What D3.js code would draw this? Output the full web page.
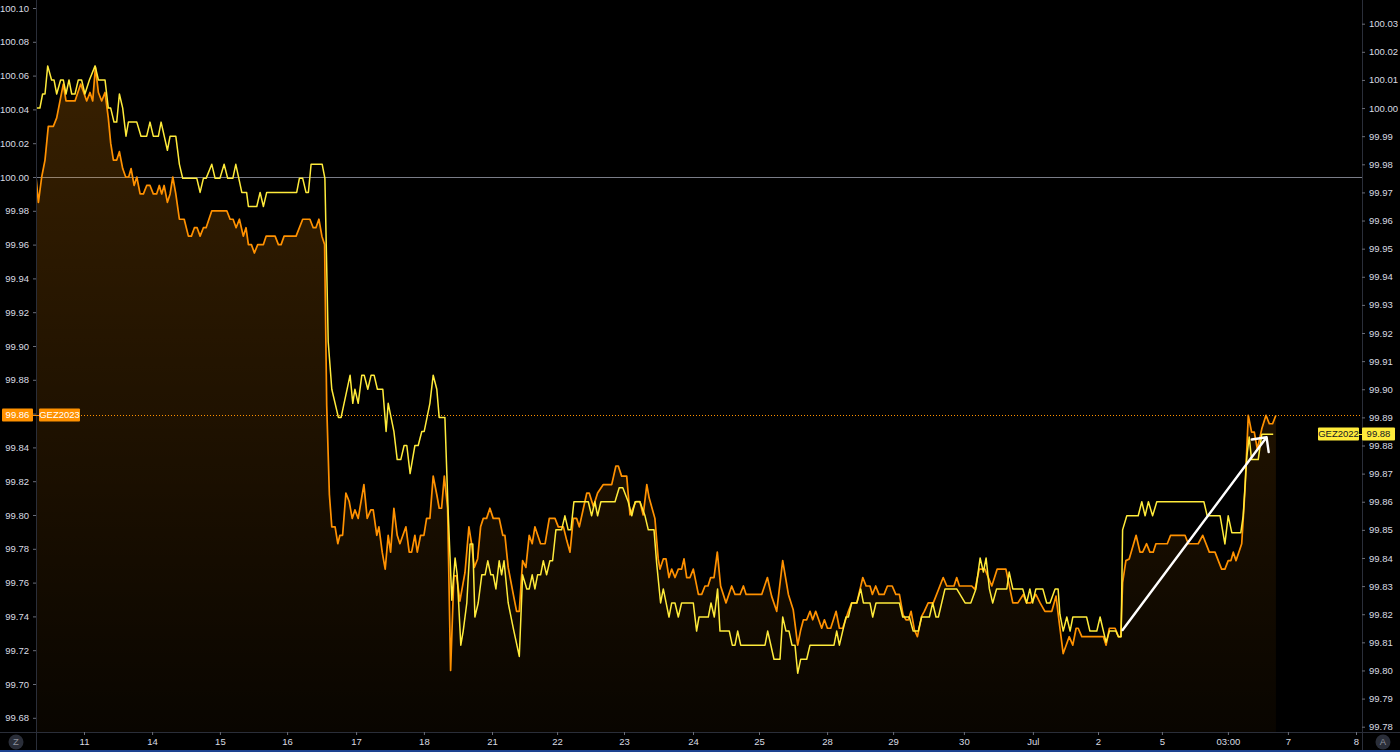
<!DOCTYPE html>
<meta charset="utf-8">
<style>
html, body { margin: 0; padding: 0; background: #000; }
svg { display: block; }
.axis text { font-family: "Liberation Sans", Arial, sans-serif; font-size: 9.5px; fill: #d9dce3; }
.axis line { stroke: #6a6d78; }
.axis .domain { display: none; }
.lbl { font-family: "Liberation Sans", Arial, sans-serif; font-size: 9.5px; }
</style>
<svg id="chart" width="1400" height="752"></svg>
<script src="https://d3js.org/d3.v7.min.js"></script>
<script>

// hourly bar index, price  (GEZ2023 on the left scale)
var gez2023 = [
  [0,100.00],[0.8,99.985],[1.9,100.00],[3,100.01],[4.1,100.03],[5.8,100.03],[6.9,100.035],[9.1,100.055],[10,100.045],[13,100.045],
  [14.9,100.055],[16.9,100.045],[18,100.05],[18.9,100.045],[19.8,100.065],[20.8,100.05],[21.9,100.045],[23,100.05],[24.1,100.035],[24.9,100.02],
  [25.8,100.01],[26.9,100.01],[27.8,100.015],[28.9,100.005],[29.9,100.00],[30.9,100.00],[31.7,100.005],[32.7,99.995],[33.6,100.00],[34.7,99.99],
  [35.8,99.99],[36.9,99.995],[38,99.995],[39.1,99.99],[40.2,99.99],[41.1,99.995],[41.9,99.99],[42.7,99.995],[43.8,99.985],[44.7,99.99],
  [45.6,100.00],[46.6,99.99],[47.8,99.975],[49.4,99.975],[50.8,99.965],[51.8,99.965],[52.8,99.97],[53.7,99.97],[54.7,99.965],[55.8,99.97],
  [56.7,99.97],[58.6,99.98],[63.6,99.98],[64.7,99.975],[65.7,99.975],[66.7,99.97],[67.8,99.975],[69.1,99.965],[70,99.97],[70.8,99.96],
  [71.8,99.96],[72.8,99.955],[73.9,99.96],[75.8,99.96],[76.7,99.965],[79.7,99.965],[80.8,99.96],[81.7,99.96],[82.7,99.965],[86.7,99.965],
  [88.9,99.975],[91.3,99.975],[92.4,99.97],[93.3,99.97],[94.3,99.975],[95.3,99.965],[96.2,99.96],[96.9,99.865],[97.8,99.812],[98.6,99.793],
  [99.7,99.793],[100.6,99.783],[101.3,99.788],[102.2,99.788],[103.3,99.813],[104.4,99.808],[105.4,99.798],[106.3,99.803],[107.4,99.798],[109.3,99.818],
  [110.4,99.798],[111.6,99.803],[112.4,99.803],[113.6,99.788],[114.3,99.793],[115.4,99.778],[116.4,99.768],[117.4,99.788],[118.2,99.778],[119.3,99.804],
  [120.4,99.788],[121.3,99.783],[123.3,99.793],[124.4,99.778],[125.2,99.778],[126.3,99.788],[127.1,99.778],[128.2,99.788],[129.3,99.788],[130.2,99.798],
  [131.3,99.798],[132.4,99.823],[133.6,99.812],[134.4,99.804],[135.2,99.804],[136.1,99.823],[137.2,99.804],[138.2,99.708],[139.3,99.764],[140.2,99.764],
  [141.3,99.749],[143,99.766],[144.3,99.793],[145.2,99.783],[146.1,99.769],[147.2,99.774],[148.2,99.793],[149.1,99.798],[150.2,99.798],[151.3,99.804],
  [152.4,99.798],[154.4,99.798],[155.6,99.788],[156.3,99.788],[157.4,99.769],[159.1,99.753],[160.2,99.743],[161.1,99.743],[162.2,99.773],[163.3,99.769],
  [164.4,99.788],[165.4,99.783],[166.3,99.793],[168.2,99.783],[169.7,99.783],[171.1,99.798],[173,99.798],[174.1,99.793],[175.8,99.793],[176.9,99.785],
  [178,99.778],[179.1,99.798],[180.2,99.798],[181.1,99.793],[183.6,99.813],[184.4,99.813],[185.8,99.805],[187.2,99.813],[189.1,99.818],[191.9,99.818],
  [193.3,99.829],[194.1,99.829],[195.2,99.823],[196.9,99.823],[198,99.80],[200,99.808],[201.3,99.808],[202.4,99.80],[203.6,99.818],[204.4,99.81],
  [206.3,99.798],[207.4,99.774],[208,99.768],[209.1,99.774],[210,99.774],[211,99.763],[211.9,99.768],[213,99.763],[214.1,99.768],[215.2,99.768],
  [216,99.774],[216.9,99.763],[218,99.763],[219.1,99.768],[220.8,99.753],[221.9,99.753],[223,99.758],[224,99.758],[224.9,99.763],[226,99.763],
  [227.1,99.778],[228.2,99.758],[230,99.748],[231.9,99.758],[233,99.753],[234.7,99.753],[235.8,99.758],[236.7,99.753],[241.9,99.753],[243.8,99.763],
  [245.2,99.752],[246.9,99.743],[248.9,99.773],[250.8,99.753],[252.4,99.744],[253.9,99.723],[254.9,99.732],[255.8,99.738],[256.9,99.738],[258,99.743],
  [258.9,99.738],[259.9,99.743],[261.9,99.733],[262.8,99.738],[263.8,99.733],[264.9,99.733],[266.7,99.743],[267.8,99.733],[268.9,99.733],[270.8,99.743],
  [271.9,99.748],[273.6,99.748],[275.6,99.763],[276.7,99.758],[278,99.758],[278.8,99.753],[279.9,99.758],[281,99.753],[282.7,99.753],[283.8,99.758],
  [285.4,99.758],[286.6,99.753],[287.8,99.753],[289,99.741],[290,99.738],[290.8,99.738],[291.7,99.743],[292.8,99.732],[293.8,99.728],[295.2,99.74],
  [296.1,99.743],[297.4,99.748],[299.1,99.748],[302.4,99.763],[303.6,99.758],[306,99.758],[306.9,99.763],[307.8,99.758],[311.9,99.758],[313,99.756],
  [314.4,99.768],[316.3,99.768],[318.6,99.758],[320.4,99.768],[323.3,99.768],[325.6,99.748],[327.3,99.748],[329.1,99.753],[330.2,99.748],[331.6,99.748],
  [333.3,99.753],[334.7,99.748],[336.3,99.743],[338.6,99.743],[340,99.752],[341.1,99.736],[342.4,99.718],[344.4,99.728],[345.6,99.723],[346.7,99.733],
  [347.4,99.733],[348.6,99.728],[355.8,99.728],[356.7,99.723],[357.8,99.733],[359.7,99.733],[360.8,99.728],[361.6,99.728],[362.2,99.76],[363.3,99.773],
  [364.4,99.774],[366.7,99.788],[368,99.778],[368.9,99.778],[370.2,99.783],[371.3,99.778],[372.4,99.778],[373.3,99.783],[377.1,99.783],[378.2,99.788],
  [383,99.788],[384.1,99.783],[387.4,99.783],[388.9,99.788],[391.1,99.778],[393,99.778],[395.2,99.768],[396.3,99.768],[397.4,99.773],[398.3,99.773],
  [399.1,99.778],[400,99.773],[401.9,99.783],[403,99.815],[404.1,99.859],[405.2,99.849],[406.1,99.849],[407.1,99.839],[408.6,99.851],[410,99.859],
  [411.1,99.854],[412.2,99.854],[413.3,99.859]
];

// hourly bar index, price  (GEZ2022 on the right scale)
var gez2022 = [
  [0,100.00],[1.3,100.00],[2.2,100.005],[3,100.005],[3.9,100.015],[5.2,100.01],[6,100.01],[6.9,100.005],[8.2,100.01],[9.1,100.01],
  [10,100.005],[11,100.01],[11.9,100.005],[13,100.005],[14.1,100.01],[15.2,100.01],[16.3,100.005],[17.8,100.01],[19.7,100.015],[20.8,100.01],
  [23,100.01],[24.1,100.00],[24.9,100.00],[26,99.995],[26.9,99.995],[27.8,100.005],[28.9,100.00],[30,99.99],[30.8,99.995],[33.6,99.995],
  [35,99.99],[36.9,99.99],[38,99.995],[39.1,99.99],[40.8,99.99],[41.7,99.995],[43.8,99.985],[44.7,99.99],[46.6,99.99],[47.8,99.98],
  [48.9,99.975],[53.6,99.975],[54.7,99.97],[55.8,99.975],[56.7,99.975],[58.6,99.98],[59.7,99.975],[61.3,99.975],[62.7,99.98],[63.9,99.975],
  [65.6,99.975],[66.6,99.98],[68.6,99.97],[70.2,99.97],[70.8,99.965],[73.6,99.965],[74.7,99.97],[75.8,99.965],[76.9,99.97],[86.9,99.97],
  [87.8,99.975],[88.9,99.975],[90,99.97],[90.8,99.97],[91.7,99.98],[95.4,99.98],[96.3,99.975],[97.4,99.917],[98.6,99.90],[100.8,99.89],
  [101.7,99.89],[104.7,99.905],[105.6,99.895],[106.3,99.90],[107.4,99.895],[108.6,99.905],[109.4,99.905],[110.6,99.90],[111.7,99.905],[112.7,99.905],
  [113.8,99.90],[115.6,99.90],[116.7,99.885],[117.4,99.895],[119.3,99.885],[120.4,99.875],[121.6,99.875],[122.7,99.88],[123.6,99.88],[124.7,99.87],
  [126.3,99.88],[127.4,99.88],[128.6,99.885],[129.4,99.885],[131.3,99.895],[132.4,99.905],[133.6,99.90],[134.4,99.89],[136.3,99.89],[137.4,99.856],
  [138.6,99.825],[139.7,99.84],[140.4,99.834],[141.6,99.809],[142.4,99.814],[143.6,99.824],[144.7,99.845],[145.6,99.845],[146.3,99.819],[147.4,99.824],
  [148.6,99.834],[149.7,99.834],[150.6,99.839],[151.6,99.834],[152.4,99.834],[153.3,99.829],[154.4,99.839],[155.2,99.834],[156,99.839],[157.4,99.824],
  [159.1,99.815],[161.1,99.805],[162.2,99.834],[163.6,99.829],[164.4,99.829],[165.4,99.834],[166.3,99.829],[167.2,99.834],[168.2,99.834],[169.1,99.839],
  [170.2,99.834],[171.3,99.839],[172.2,99.839],[173.3,99.85],[175.2,99.85],[176.3,99.855],[177.4,99.85],[178.3,99.85],[179.3,99.86],[184.1,99.86],
  [185.2,99.855],[186.3,99.86],[187.2,99.855],[188.3,99.86],[193,99.86],[194.4,99.865],[195.6,99.865],[197.4,99.86],[198.6,99.855],[199.7,99.86],
  [201.3,99.86],[203,99.855],[204.1,99.85],[206,99.85],[206.9,99.838],[208.2,99.824],[209.1,99.829],[211,99.819],[211.9,99.824],[213,99.824],
  [214.1,99.819],[215.2,99.824],[219.1,99.824],[220.2,99.814],[221,99.819],[224.1,99.819],[225,99.824],[226.1,99.819],[227.2,99.829],[228,99.814],
  [231.1,99.814],[232.1,99.809],[233,99.809],[233.9,99.814],[234.9,99.809],[243,99.809],[243.9,99.814],[246,99.804],[248,99.804],[248.9,99.819],
  [250,99.814],[251,99.814],[252,99.809],[253,99.809],[253.9,99.799],[254.9,99.804],[256.9,99.804],[258,99.809],[266,99.809],[266.9,99.814],
  [267.8,99.809],[270,99.819],[270.8,99.819],[271.9,99.824],[273.6,99.824],[274.9,99.829],[275.8,99.824],[278,99.824],[278.9,99.819],[280,99.824],
  [287.8,99.824],[288.9,99.819],[291.1,99.819],[292.4,99.814],[294.1,99.814],[295.2,99.819],[297.8,99.819],[298.9,99.824],[300,99.819],[300.8,99.819],
  [303,99.829],[306.9,99.829],[309.7,99.824],[311.6,99.824],[313.3,99.829],[314.7,99.84],[315.8,99.835],[316.7,99.84],[317.8,99.829],[318.9,99.824],
  [320.2,99.829],[323.6,99.829],[324.4,99.835],[325.6,99.829],[328.9,99.829],[330.2,99.824],[331.3,99.829],[332.2,99.824],[333.3,99.829],[335.6,99.829],
  [336.9,99.824],[338,99.824],[339.7,99.829],[340.7,99.829],[341.3,99.82],[342.4,99.814],[343.6,99.819],[344.7,99.814],[345.6,99.819],[350.2,99.819],
  [351.3,99.814],[353.6,99.814],[354.7,99.819],[355.8,99.814],[356.7,99.81],[357.8,99.814],[360,99.814],[360.8,99.812],[361.7,99.812],[362.2,99.85],
  [363.6,99.855],[367.4,99.855],[368.6,99.86],[369.7,99.855],[370.8,99.86],[372.2,99.855],[373.6,99.86],[389.3,99.86],[390.4,99.855],[394.7,99.855],
  [396.3,99.845],[397.4,99.855],[398.6,99.849],[401.6,99.849],[402.4,99.855],[403.6,99.876],[404.4,99.883],[405.2,99.875],[407.4,99.875],[408.6,99.884],
  [412.4,99.884]
];

var timeTickBars   = [16, 38.7, 61.3, 83.7, 106.7, 129.3, 152, 173.7, 196, 219, 241, 263.7, 285.7, 309.3, 332.3, 354, 375.3, 397.3, 417.3, 440];
var timeTickLabels = ["11", "14", "15", "16", "17", "18", "21", "22", "23", "24", "25", "28", "29", "30", "Jul", "2", "5", "03:00", "7", "8"];
var leftTicks  = d3.range(0, 22).map(function(i) { return 99.68 + i * 0.02; });
var rightTicks = d3.range(0, 26).map(function(i) { return 99.78 + i * 0.01; });

var hLineLevel = 100.00;                          // horizontal line, left scale
var arrowFrom = [362.2, 99.732], arrowTo = [410.2, 99.846];   // drawn arrow, left scale

var orange = "#ff9100", yellow = "#ffeb3b";

var svg = d3.select("#chart"),
    left = 36, right = 1362, bottom = 732;

var x  = d3.scaleLinear().domain([0, 442]).range([left, right]);
var yL = d3.scaleLinear().domain([99.68, 100.10]).range([717.8, 8]);
var yR = d3.scaleLinear().domain([99.78, 100.03]).range([726.7, 23.7]);

svg.append("rect").attr("width", 1400).attr("height", 752).attr("fill", "#000");

var defs = svg.append("defs");
var grad = defs.append("linearGradient")
    .attr("id", "fillGrad")
    .attr("gradientUnits", "userSpaceOnUse")
    .attr("x1", 0).attr("x2", 0)
    .attr("y1", yL(d3.max(gez2023, function(d) { return d[1]; })))
    .attr("y2", bottom);
grad.append("stop").attr("offset", 0).attr("stop-color", orange).attr("stop-opacity", 0.22);
grad.append("stop").attr("offset", 1).attr("stop-color", orange).attr("stop-opacity", 0.035);

defs.append("clipPath").attr("id", "pane")
  .append("rect").attr("x", left).attr("y", 0).attr("width", right - left).attr("height", bottom);

var pane = svg.append("g").attr("clip-path", "url(#pane)");

// horizontal line at 100.00
pane.append("line")
    .attr("x1", left).attr("x2", right)
    .attr("y1", yL(hLineLevel) + 0.5).attr("y2", yL(hLineLevel) + 0.5)
    .attr("stroke", "#7a7d88").attr("stroke-width", 1);

var last23 = gez2023[gez2023.length - 1][1],
    last22 = gez2022[gez2022.length - 1][1];

// last price dotted line
pane.append("line")
    .attr("x1", left).attr("x2", right)
    .attr("y1", Math.round(yL(last23)) + 0.5).attr("y2", Math.round(yL(last23)) + 0.5)
    .attr("stroke", orange).attr("stroke-width", 1).attr("stroke-dasharray", "1,2");

pane.append("path")
    .datum(gez2023)
    .attr("fill", "url(#fillGrad)")
    .attr("d", d3.area()
      .x(function(d) { return x(d[0]); })
      .y0(bottom)
      .y1(function(d) { return yL(d[1]); }));

pane.append("path")
    .datum(gez2023)
    .attr("fill", "none")
    .attr("stroke", orange)
    .attr("stroke-width", 1.7)
    .attr("stroke-linejoin", "round")
    .attr("d", d3.line()
      .x(function(d) { return x(d[0]); })
      .y(function(d) { return yL(d[1]); }));

pane.append("path")
    .datum(gez2022)
    .attr("fill", "none")
    .attr("stroke", yellow)
    .attr("stroke-width", 1.5)
    .attr("stroke-linejoin", "round")
    .attr("d", d3.line()
      .x(function(d) { return x(d[0]); })
      .y(function(d) { return yR(d[1]); }));

// arrow annotation
var ax0 = x(arrowFrom[0]), ay0 = yL(arrowFrom[1]),
    ax1 = x(arrowTo[0]),   ay1 = yL(arrowTo[1]);
var ang = Math.atan2(ay0 - ay1, ax0 - ax1), barb = 15;
pane.append("path")
    .attr("fill", "none")
    .attr("stroke", "#fff")
    .attr("stroke-width", 2.4)
    .attr("stroke-linecap", "round")
    .attr("stroke-linejoin", "round")
    .attr("d", "M" + ax0 + "," + ay0 + "L" + ax1 + "," + ay1 +
      "M" + (ax1 + barb * Math.cos(ang - 0.78)) + "," + (ay1 + barb * Math.sin(ang - 0.78)) +
      "L" + ax1 + "," + ay1 +
      "L" + (ax1 + barb * Math.cos(ang + 0.78)) + "," + (ay1 + barb * Math.sin(ang + 0.78)));

// frame lines
svg.append("line").attr("x1", left + 0.5).attr("x2", left + 0.5).attr("y1", 0).attr("y2", 752).attr("stroke", "#2a2e39");
svg.append("line").attr("x1", right + 0.5).attr("x2", right + 0.5).attr("y1", 0).attr("y2", 752).attr("stroke", "#2a2e39");
svg.append("line").attr("x1", 0).attr("x2", 1400).attr("y1", bottom + 0.5).attr("y2", bottom + 0.5).attr("stroke", "#2a2e39");
svg.append("rect").attr("x", 0).attr("y", 750).attr("width", 1400).attr("height", 2).attr("fill", "#1d4291");

// axes
svg.append("g")
    .attr("class", "axis")
    .attr("transform", "translate(" + left + ",0)")
    .call(d3.axisLeft(yL).tickValues(leftTicks).tickSize(3).tickPadding(4).tickFormat(d3.format(".2f")));

svg.append("g")
    .attr("class", "axis")
    .attr("transform", "translate(" + right + ",0)")
    .call(d3.axisRight(yR).tickValues(rightTicks).tickSize(3).tickPadding(4).tickFormat(d3.format(".2f")));

svg.append("g")
    .attr("class", "axis")
    .attr("transform", "translate(0," + bottom + ")")
    .call(d3.axisBottom(x).tickValues(timeTickBars).tickSize(3).tickPadding(3)
      .tickFormat(function(d, i) { return timeTickLabels[i]; }));

// price / name labels
function tag(x0, w, yc, fill, color, text) {
  var g = svg.append("g");
  g.append("rect").attr("x", x0).attr("y", Math.round(yc) - 6.5).attr("width", w).attr("height", 13)
    .attr("rx", 1).attr("fill", fill);
  g.append("text").attr("class", "lbl")
    .attr("x", x0 + w / 2).attr("y", Math.round(yc)).attr("dy", "0.35em")
    .attr("text-anchor", "middle").attr("fill", color).text(text);
}
function dash(x0, x1, yc, color) {
  svg.append("line").attr("x1", x0).attr("x2", x1)
    .attr("y1", Math.round(yc) + 0.5).attr("y2", Math.round(yc) + 0.5).attr("stroke", color);
}

var fmt = d3.format(".2f");
var yo = yL(last23), yy = yR(last22);
tag(2, 31, yo, orange, "#fff", fmt(last23));
dash(33, 39, yo, orange);
tag(39, 41, yo, orange, "#fff", "GEZ2023");

tag(1318, 41, yy, yellow, "#131722", "GEZ2022");
dash(1359, 1363, yy, yellow);
tag(1362, 33, yy, yellow, "#131722", fmt(last22));

// corner buttons
[["Z", 16], ["A", 1383]].forEach(function(b) {
  svg.append("circle").attr("cx", b[1]).attr("cy", 742).attr("r", 7.5).attr("fill", "#2a2e39");
  svg.append("text").attr("class", "lbl").attr("x", b[1]).attr("y", 742).attr("dy", "0.35em")
    .attr("text-anchor", "middle").attr("fill", "#8d919c").attr("font-size", "8px").text(b[0]);
});

</script>
